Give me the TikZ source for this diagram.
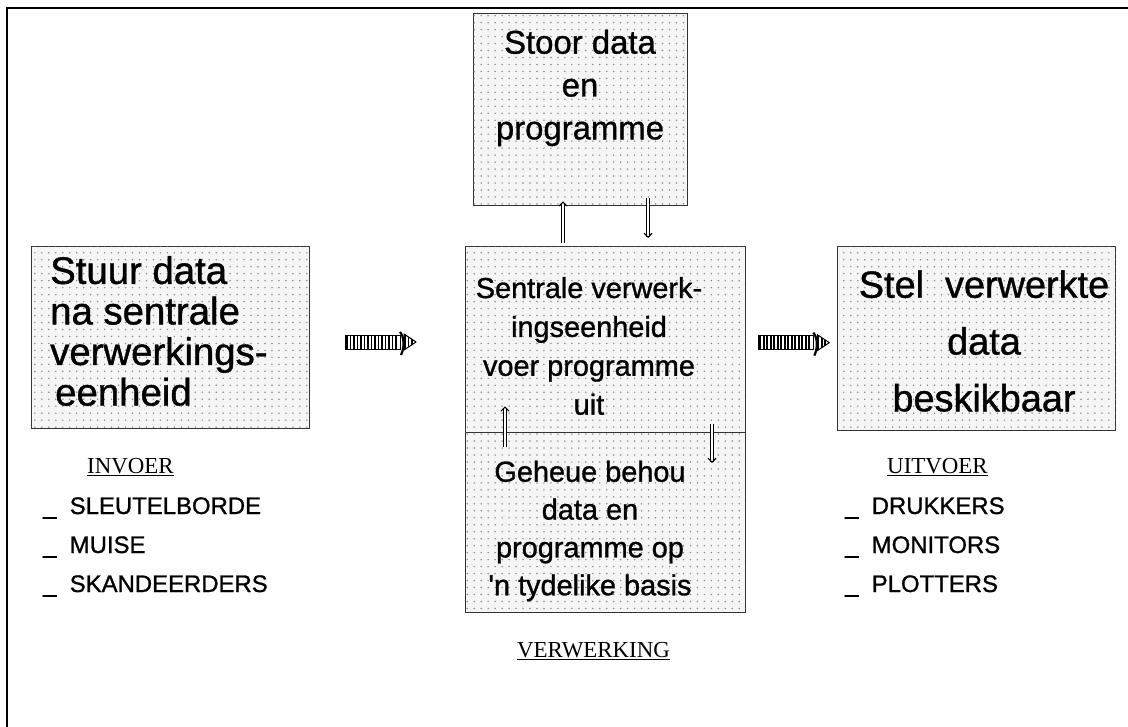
\documentclass[tikz,border=0pt]{standalone}
\usepackage{fontspec}
\setmainfont{Liberation Sans}
\newfontface\heavysans[FakeBold=1]{Liberation Sans}
\newfontfamily\headserif{Liberation Serif}
\usetikzlibrary{patterns,arrows.meta,calc}

% sparse dot screen used inside the panels
\pgfdeclarepatternformonly{paneldots}{\pgfqpoint{-1pt}{-1pt}}{\pgfqpoint{1pt}{1pt}}{\pgfqpoint{7pt}{7pt}}%
  {\pgfpathcircle{\pgfqpoint{0pt}{0pt}}{0.85pt}\pgfusepath{fill}}

\tikzset{
  panel/.style={draw=black!80, line width=1.3bp, fill=black!4,
    postaction={pattern=paneldots, pattern color=black!45},
    anchor=north west, inner sep=0pt},
  paneltext/.style={inner sep=0pt, text=black},
  listitem/.style={inner sep=0pt, anchor=base west, font=\heavysans\fontsize{24}{28}\selectfont},
  headlabel/.style={inner sep=0pt, anchor=base west, font=\headserif\fontsize{23}{27}\selectfont},
  vlink/.style={draw=black, line width=1.1bp, double=white, double distance=2bp,
    -{Straight Barb[length=4bp,width=8bp]}},
  frameline/.style={line width=1.6bp, black},
  pics/bararrow/.style={code={
    \fill[white] (0,-7) rectangle (55,7);
    \foreach \s in {2,5.5,...,54} \draw[line width=1.7bp] (\s,-7) -- (\s,7);
    \draw[line width=1bp] (0,-7) rectangle (55,7);
    \draw[line width=2.2bp] (55,-10) .. controls (59.5,-5) and (59.5,6) .. (56,13);
    \begin{scope}
      \clip (59,-8) -- (71,0) -- (59,8) -- cycle;
      \foreach \s in {60,63.5,67} \draw[line width=1.7bp] (\s,-9) -- (\s,9);
    \end{scope}
    \draw[line width=1bp, line join=round] (59,-8) -- (71,0) -- (59,8) -- cycle;
  }}
}

\begin{document}
\begin{tikzpicture}[x=1bp,y=-1bp]
\useasboundingbox (0,0) rectangle (1128,727);
\fill[white] (0,0) rectangle (1128,727);

% open frame: left and top rules only
\draw[frameline] (7,727) -- (7,8) -- (1128,8);

% panels
\node[panel, minimum width=214bp, minimum height=192bp] (store) at (473,13) {};
\node[panel, minimum width=278bp, minimum height=182bp] (invoer) at (31,246) {};
\node[panel, minimum width=280bp, minimum height=186bp] (cpu) at (465,246) {};
\node[panel, minimum width=280bp, minimum height=180bp] (memory) at (465,432) {};
\node[panel, minimum width=278bp, minimum height=184bp] (uitvoer) at (837,246) {};

% panel texts
\node[paneltext, align=center, font=\heavysans\fontsize{33}{43}\selectfont] (storetext) at (580,88)
  {Stoor data\\en\\programme};
\node[paneltext, anchor=west, align=left, font=\heavysans\fontsize{38.5}{40.7}\selectfont] (invoertext) at (50,331)
  {Stuur data\\na sentrale\\verwerkings-\\\hspace{5bp}eenheid};
\node[paneltext, align=center, font=\heavysans\fontsize{29}{39}\selectfont] (cputext) at (589,346)
  {Sentrale verwerk-\\ingseenheid\\voer programme\\uit};
\node[paneltext, align=center, font=\heavysans\fontsize{29}{38}\selectfont] (memorytext) at (590,531)
  {Geheue behou\\data en\\programme op\\'n tydelike basis};
\node[paneltext, align=center, font=\heavysans\fontsize{38}{57}\selectfont] (uitvoertext) at (984,341)
  {Stel\ \ verwerkte\\data\\beskikbaar};

% data paths between the panels
\draw[vlink] ($(563,0 |- cpu.north)+(0,-3)$) -- ($(563,0 |- store.south)+(0,-5)$);
\draw[vlink] ($(648,0 |- store.south)+(0,-8)$) -- ($(648,0 |- cpu.north)+(0,-8)$);
\draw[vlink] ($(505,0 |- memory.north)+(0,15)$) -- ($(505,0 |- cpu.south)+(0,-27)$);
\draw[vlink] ($(712,0 |- cpu.south)+(0,-9)$) -- ($(712,0 |- memory.north)+(0,31)$);

\coordinate (inarrow) at (345,342);
\coordinate (outarrow) at ($(cpu.east)+(12,3)$);
\pic at (inarrow) {bararrow};
\pic at (outarrow) {bararrow};

% headings and device lists
\node[headlabel] (invoerhead) at (87,473) {\underline{INVOER}};
\node[listitem] (in1) at (43,514) {\_~~SLEUTELBORDE};
\node[listitem] (in2) at (43,553) {\_~~MUISE};
\node[listitem] (in3) at (43,592) {\_~~SKANDEERDERS};

\node[headlabel] (uitvoerhead) at (887,473) {\underline{UITVOER}};
\node[listitem] (out1) at (845,514) {\_~~DRUKKERS};
\node[listitem] (out2) at (845,553) {\_~~MONITORS};
\node[listitem] (out3) at (845,592) {\_~~PLOTTERS};

\node[headlabel] (verwerkhead) at (517,657) {\underline{VERWERKING}};
\end{tikzpicture}
\end{document}
